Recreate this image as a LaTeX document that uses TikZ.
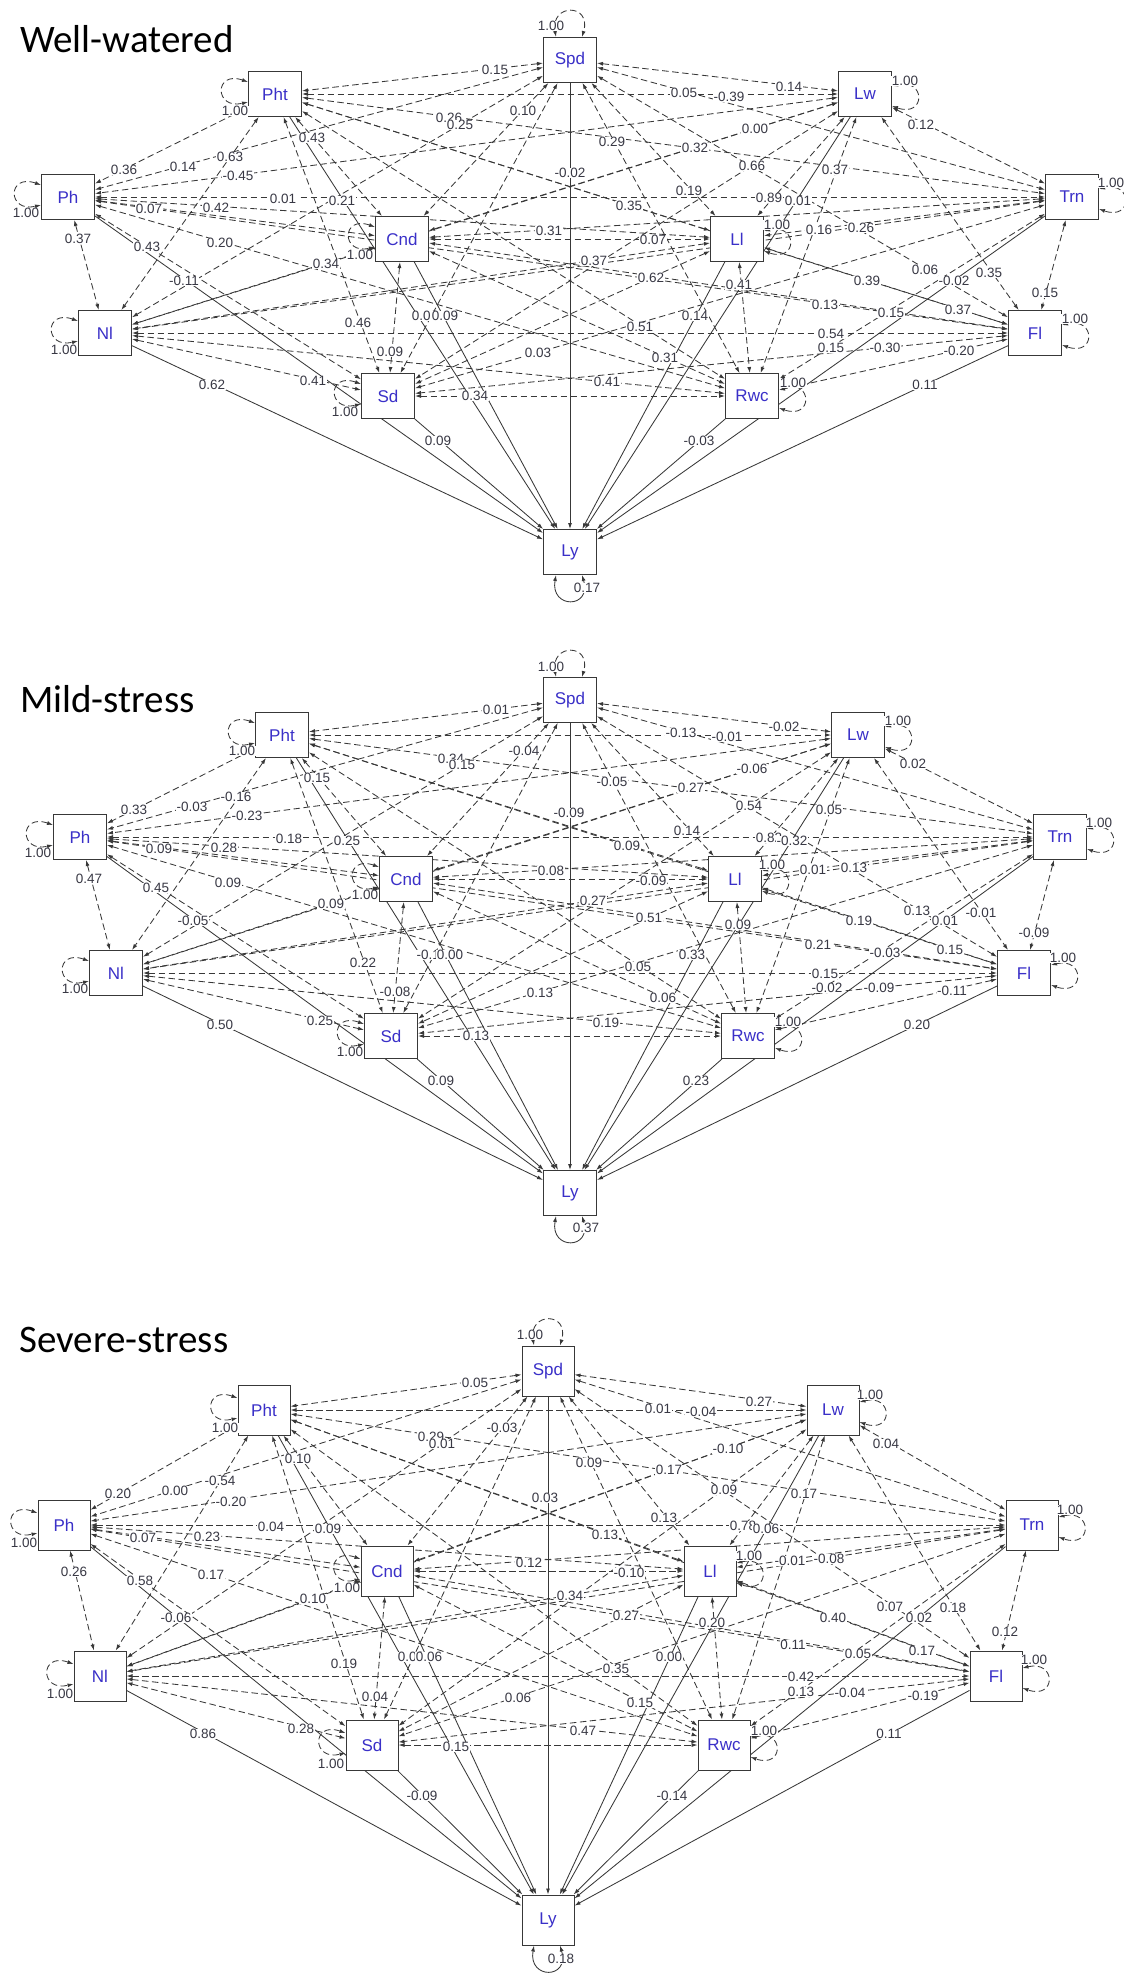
\documentclass[tikz,border=0pt]{standalone}
\usepackage{fontspec}
\setmainfont{Liberation Sans}
\newfontfamily\ttlfamily{Carlito}
\usetikzlibrary{arrows.meta}
\pgfdeclarelayer{bg}
\pgfsetlayers{bg,main}
\definecolor{lc}{HTML}{383838}
\definecolor{nc}{HTML}{3A30C8}
\definecolor{tc}{HTML}{383844}
\newcommand\lbfont{\fontsize{13.5}{14}\selectfont}
\newcommand\ndfont{\fontsize{17}{18}\selectfont}
\tikzset{
  >={Latex[length=6pt,width=4pt]},
  var/.style={draw=lc, line width=1pt, fill=white, minimum width=53pt, minimum height=45pt, inner sep=0pt, font=\ndfont, text=nc},
  varc/.style={var, minimum width=52pt, minimum height=50pt},
  cov/.style={draw=lc, line width=0.85pt, dash pattern=on 6.5pt off 3.5pt, <->},
  reg/.style={draw=lc, line width=0.85pt, ->},
  res/.style={draw=lc, line width=0.85pt, <->},
  lab/.style={font=\lbfont, text=tc, fill=white, inner sep=0.5pt},
  ttl/.style={font=\ttlfamily\fontsize{39}{44}\selectfont, anchor=base west, inner sep=0pt},
}
\newcommand\drawedges[1]{%
  \foreach \va [count=\i] in {Spd,Pht,Lw,Ph,Trn,Cnd,Ll,Nl,Fl,Sd,Rwc}{%
    \foreach \vb [count=\j] in {Spd,Pht,Lw,Ph,Trn,Cnd,Ll,Nl,Fl,Sd,Rwc}{%
      \ifnum\j>\i\relax \draw[cov] (#1\va) -- (#1\vb);\fi
    }%
    \draw[reg] (#1\va) -- (#1Ly);
  }%
  \foreach \va in {Pht,Ph,Cnd,Nl,Sd}{%
    \draw[cov] ([yshift=12pt]#1\va.west) .. controls +(-34pt,12pt) and +(-34pt,-8pt) .. ([yshift=-8pt]#1\va.west);
  }%
  \foreach \va in {Lw,Trn,Ll,Fl,Rwc}{%
    \draw[cov] ([yshift=8pt]#1\va.east) .. controls +(34pt,8pt) and +(34pt,-12pt) .. ([yshift=-12pt]#1\va.east);
  }%
  \draw[cov] ([xshift=-14pt]#1Spd.north) .. controls +(-6pt,34pt) and +(10pt,34pt) .. ([xshift=12pt]#1Spd.north);
  \draw[res] ([xshift=-14pt]#1Ly.south) .. controls +(-6pt,-34pt) and +(10pt,-34pt) .. ([xshift=12pt]#1Ly.south);
}
\begin{document}
\begin{tikzpicture}[x=1pt,y=-1pt]
\useasboundingbox (0,0) rectangle (1124,1973);
% titles
\node[ttl] (t1) at (20,52) {Well-watered};
\node[ttl] (t2) at (20,712) {Mild-stress};
\node[ttl] (t3) at (19,1352) {Severe-stress};
% panel 1
\node[var] (aSpd) at (570,60) {Spd};
\node[var] (aPht) at (275,94) {Pht};
\node[var] (aLw) at (865,94) {Lw};
\node[var] (aPh) at (68,197) {Ph};
\node[var] (aTrn) at (1072,197) {Trn};
\node[var] (aCnd) at (402,239) {Cnd};
\node[var] (aLl) at (737,239) {Ll};
\node[var] (aNl) at (105,333) {Nl};
\node[var] (aFl) at (1035,333) {Fl};
\node[var] (aSd) at (388,396) {Sd};
\node[var] (aRwc) at (752,396) {Rwc};
\node[var] (aLy) at (570,552) {Ly};
% panel 2
\node[var] (bSpd) at (570,700) {Spd};
\node[var] (bPht) at (282,735) {Pht};
\node[var] (bLw) at (858,735) {Lw};
\node[var] (bPh) at (80,837) {Ph};
\node[var] (bTrn) at (1060,837) {Trn};
\node[var] (bCnd) at (406,879) {Cnd};
\node[var] (bLl) at (735,879) {Ll};
\node[var] (bNl) at (116,973) {Nl};
\node[var] (bFl) at (1024,973) {Fl};
\node[var] (bSd) at (391,1036) {Sd};
\node[var] (bRwc) at (748,1036) {Rwc};
\node[var] (bLy) at (570,1193) {Ly};
% panel 3
\node[varc] (cSpd) at (548,1371) {Spd};
\node[varc] (cPht) at (264,1410) {Pht};
\node[varc] (cLw) at (833,1410) {Lw};
\node[varc] (cPh) at (64,1525) {Ph};
\node[varc] (cTrn) at (1032,1525) {Trn};
\node[varc] (cCnd) at (387,1571) {Cnd};
\node[varc] (cLl) at (710,1571) {Ll};
\node[varc] (cNl) at (100,1676) {Nl};
\node[varc] (cFl) at (996,1676) {Fl};
\node[varc] (cSd) at (372,1745) {Sd};
\node[varc] (cRwc) at (724,1745) {Rwc};
\node[varc] (cLy) at (548,1920) {Ly};
\begin{pgfonlayer}{bg}
\drawedges{a}
\drawedges{b}
\drawedges{c}
\end{pgfonlayer}
% labels panel 1
\foreach \x/\y/\t [count=\k] in {
551/26/1.00, 495/70/0.15, 235/111/1.00, 449/118/0.26, 460/125/0.25, 523/111/0.10,
312/138/0.43, 230/157/0.63, 183/167/0.14, 124/170/0.36, 238/176/-0.45, 283/199/0.01,
342/201/0.21, 149/209/0.07, 216/208/0.42, 26/213/1.00, 78/239/0.37, 147/247/0.43,
220/243/0.20, 326/264/0.34, 360/255/1.00, 184/281/-0.11, 570/173/-0.02, 549/231/0.31,
789/87/0.14, 684/93/0.05, 729/97/-0.39, 905/81/1.00, 755/129/0.00, 921/125/0.12,
612/142/0.29, 695/148/0.32, 752/166/0.66, 835/170/0.37, 689/191/0.19, 769/198/0.89,
798/201/0.01, 1111/183/1.00, 629/206/0.35, 777/225/1.00, 819/230/0.16, 861/228/0.26,
653/240/0.07, 594/261/0.37, 651/278/0.62, 739/285/0.41, 867/281/0.39, 925/270/0.06,
954/281/-0.02, 989/273/0.35, 1045/293/0.15, 358/323/0.46, 425/316/0.08, 445/316/0.09,
390/352/0.09, 538/353/0.03, 64/350/1.00, 212/385/0.62, 313/381/0.41, 475/396/0.34,
345/412/1.00, 438/441/0.09, 825/305/0.13, 891/313/0.15, 958/310/0.37, 695/316/0.14,
640/327/0.51, 1075/319/1.00, 831/334/0.54, 831/348/0.15, 885/348/-0.30, 959/351/-0.20,
665/358/0.31, 607/382/0.41, 793/383/1.00, 925/385/0.11, 699/441/-0.03, 587/588/0.17}
  \node[lab] (la\k) at (\x,\y) {\t};
% labels panel 2
\foreach \x/\y/\t [count=\k] in {
551/667/1.00, 496/710/0.01, 242/751/1.00, 451/759/0.34, 462/765/0.15, 524/751/-0.04,
317/778/0.15, 236/797/-0.16, 192/807/-0.03, 134/810/0.33, 247/816/-0.23, 289/839/0.18,
347/841/0.25, 159/849/0.09, 224/848/0.28, 38/853/1.00, 89/879/0.47, 156/888/0.45,
228/883/0.09, 365/895/1.00, 331/904/0.09, 193/921/-0.05, 551/871/0.08, 432/955/-0.18,
450/955/0.00, 784/727/-0.02, 681/733/-0.13, 727/737/-0.01, 898/721/1.00, 913/764/0.02,
752/769/-0.06, 612/782/-0.05, 691/788/0.27, 749/806/0.54, 829/810/0.05, 569/813/-0.09,
687/831/0.14, 627/846/0.09, 769/838/0.82, 792/841/-0.32, 1099/823/1.00, 772/865/1.00,
813/870/0.01, 854/868/0.13, 651/881/-0.09, 593/901/0.27, 649/918/0.51, 738/925/0.09,
859/921/0.19, 917/911/0.13, 945/921/0.01, 981/913/-0.01, 1034/933/-0.09, 818/945/0.21,
885/953/-0.03, 950/950/0.15, 692/955/0.33, 75/989/1.00, 363/963/0.22, 395/992/-0.08,
540/993/0.13, 220/1025/0.50, 320/1021/0.25, 476/1036/0.13, 350/1052/1.00, 441/1081/0.09,
638/967/0.05, 1063/958/1.00, 825/974/0.15, 663/998/0.06, 827/988/-0.02, 879/988/-0.09,
952/991/-0.11, 606/1023/0.19, 788/1022/1.00, 917/1025/0.20, 696/1081/0.23, 586/1228/0.37}
  \node[lab] (lb\k) at (\x,\y) {\t};
% labels panel 3
\foreach \x/\y/\t [count=\k] in {
530/1335/1.00, 475/1383/0.05, 225/1428/1.00, 431/1437/0.29, 442/1444/0.01, 502/1428/-0.03,
298/1459/0.10, 220/1481/-0.54, 175/1491/0.00, 118/1494/0.20, 231/1502/-0.20, 545/1498/0.03,
271/1527/0.04, 328/1529/0.09, 143/1538/0.07, 207/1537/0.23, 24/1543/1.00, 529/1563/0.12,
74/1572/0.26, 211/1575/0.17, 140/1581/0.58, 347/1588/1.00, 313/1599/0.10, 176/1618/-0.06,
759/1402/0.27, 658/1409/0.01, 701/1412/-0.04, 870/1395/1.00, 886/1444/0.04, 728/1449/-0.10,
589/1463/0.09, 669/1470/0.17, 724/1490/0.09, 804/1494/0.17, 1070/1510/1.00, 664/1518/0.13,
605/1535/0.13, 743/1526/0.78, 766/1529/0.06, 749/1556/1.00, 790/1561/-0.01, 829/1559/-0.08,
629/1573/-0.10, 570/1596/0.34, 626/1616/0.27, 712/1623/0.20, 833/1618/0.40, 890/1607/0.07,
919/1618/0.02, 953/1608/0.18, 1005/1632/0.12, 60/1694/1.00, 344/1664/0.19, 411/1657/0.06,
429/1657/0.06, 375/1697/0.04, 518/1698/0.06, 203/1734/0.86, 301/1729/0.28, 456/1747/0.15,
331/1764/1.00, 422/1796/-0.09, 793/1645/0.11, 858/1654/0.05, 922/1651/0.17, 669/1657/0.00,
616/1669/0.35, 1034/1660/1.00, 801/1677/0.42, 801/1692/0.13, 850/1693/-0.04, 923/1696/-0.19,
640/1703/0.15, 583/1731/0.47, 764/1731/1.00, 889/1734/0.11, 672/1796/-0.14, 561/1959/0.18}
  \node[lab] (lc\k) at (\x,\y) {\t};
\end{tikzpicture}
\end{document}
